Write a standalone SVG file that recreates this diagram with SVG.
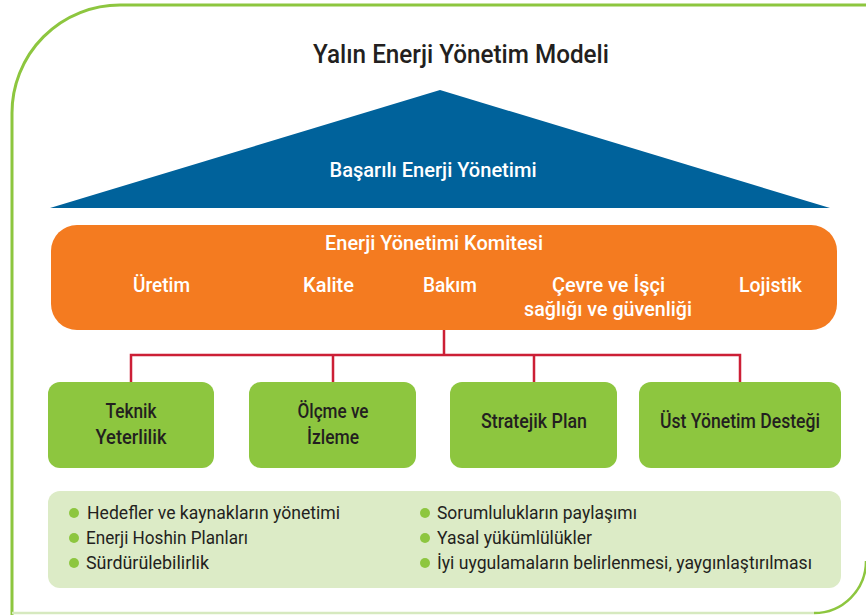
<svg xmlns="http://www.w3.org/2000/svg" width="866" height="615" viewBox="0 0 866 615">
<style>
.t{font-family:Roboto,"Liberation Sans",sans-serif;}
.w{fill:#ffffff;font-weight:500;font-size:20.5px;}
.d{fill:#231f20;font-weight:500;font-size:19.5px;}
.b{fill:#231f20;font-size:18.5px;}
.box{fill:#8dc63f;}
.dot{fill:#8dc63f;}
.conn{stroke:#cc1f36;stroke-width:2.5;fill:none;}
</style>
<rect width="866" height="615" fill="#ffffff"/>
<g id="frame" fill="none">
<path d="M12,615 L12,113 A108,108 0 0 1 120,5 L866,5" stroke="#8dc63f" stroke-width="3"/>
<path d="M12,613 L814,613" stroke="#d6e9bf" stroke-width="2.5"/>
<path d="M866,561 A52,52 0 0 1 814,613" stroke="#8dc63f" stroke-width="2.5"/>
</g>
<g id="title">
<text class="t" x="461" y="63" text-anchor="middle" font-size="26" fill="#231f20" font-weight="500" textLength="296" lengthAdjust="spacingAndGlyphs">Yalın Enerji Yönetim Modeli</text>
</g>
<g id="roof">
<polygon points="440,90 50,208 830,208" fill="#00629b"/>
<text class="t w" x="433" y="177" text-anchor="middle" textLength="207" lengthAdjust="spacingAndGlyphs">Başarılı Enerji Yönetimi</text>
</g>
<g id="committee">
<rect x="51" y="225" width="786" height="105" rx="26" fill="#f47b20"/>
<text class="t w" x="434" y="250" text-anchor="middle" textLength="218" lengthAdjust="spacingAndGlyphs">Enerji Yönetimi Komitesi</text>
<text class="t w" x="161.5" y="292" text-anchor="middle" textLength="57" lengthAdjust="spacingAndGlyphs">Üretim</text>
<text class="t w" x="328.5" y="292" text-anchor="middle" textLength="51" lengthAdjust="spacingAndGlyphs">Kalite</text>
<text class="t w" x="450" y="292" text-anchor="middle" textLength="54" lengthAdjust="spacingAndGlyphs">Bakım</text>
<text class="t w" x="608.5" y="292" text-anchor="middle" textLength="113" lengthAdjust="spacingAndGlyphs">Çevre ve İşçi</text>
<text class="t w" x="608" y="316" text-anchor="middle" textLength="168" lengthAdjust="spacingAndGlyphs">sağlığı ve güvenliği</text>
<text class="t w" x="770.5" y="292" text-anchor="middle" textLength="63" lengthAdjust="spacingAndGlyphs">Lojistik</text>
</g>
<g id="connectors">
<path class="conn" d="M444,330 V355 M131,382 V355 H740 V382 M333,355 V382 M534,355 V382"/>
</g>
<g id="node-teknik">
<rect class="box" x="48" y="382" width="166" height="86" rx="12"/>
<text class="t d" x="131" y="418" text-anchor="middle" textLength="51" lengthAdjust="spacingAndGlyphs">Teknik</text>
<text class="t d" x="131" y="444" text-anchor="middle" textLength="71" lengthAdjust="spacingAndGlyphs">Yeterlilik</text>
</g>
<g id="node-olcme">
<rect class="box" x="249" y="382" width="167" height="86" rx="12"/>
<text class="t d" x="333" y="418" text-anchor="middle" textLength="71" lengthAdjust="spacingAndGlyphs">Ölçme ve</text>
<text class="t d" x="333" y="444" text-anchor="middle" textLength="52" lengthAdjust="spacingAndGlyphs">İzleme</text>
</g>
<g id="node-stratejik">
<rect class="box" x="450" y="382" width="167" height="86" rx="12"/>
<text class="t d" x="534" y="428" text-anchor="middle" textLength="106" lengthAdjust="spacingAndGlyphs">Stratejik Plan</text>
</g>
<g id="node-ust">
<rect class="box" x="639" y="382" width="202" height="86" rx="12"/>
<text class="t d" x="740" y="428" text-anchor="middle" textLength="160" lengthAdjust="spacingAndGlyphs">Üst Yönetim Desteği</text>
</g>
<g id="bullets">
<rect x="48" y="491" width="793" height="97" rx="12" fill="#dcebc6"/>
<circle class="dot" cx="74" cy="513" r="5"/>
<circle class="dot" cx="74" cy="538" r="5"/>
<circle class="dot" cx="74" cy="563" r="5"/>
<circle class="dot" cx="425" cy="513" r="5"/>
<circle class="dot" cx="425" cy="538" r="5"/>
<circle class="dot" cx="425" cy="563" r="5"/>
<text class="t b" x="87" y="519" textLength="253" lengthAdjust="spacingAndGlyphs">Hedefler ve kaynakların yönetimi</text>
<text class="t b" x="86" y="544" textLength="162" lengthAdjust="spacingAndGlyphs">Enerji Hoshin Planları</text>
<text class="t b" x="86" y="569" textLength="123" lengthAdjust="spacingAndGlyphs">Sürdürülebilirlik</text>
<text class="t b" x="437" y="519" textLength="200" lengthAdjust="spacingAndGlyphs">Sorumlulukların paylaşımı</text>
<text class="t b" x="437" y="544" textLength="155" lengthAdjust="spacingAndGlyphs">Yasal yükümlülükler</text>
<text class="t b" x="437" y="569" textLength="375" lengthAdjust="spacingAndGlyphs">İyi uygulamaların belirlenmesi, yaygınlaştırılması</text>
</g>
</svg>
